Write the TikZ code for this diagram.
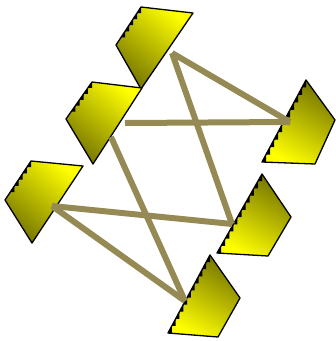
\documentclass[tikz,border=0pt]{standalone}
\usetikzlibrary{calc}
\definecolor{linkcol}{RGB}{150,138,84}
\definecolor{brightY}{RGB}{255,255,0}
\definecolor{darkY}{RGB}{118,118,0}
\tikzset{
  link/.style={draw=linkcol,line width=6pt},
  outline/.style={draw=black,line width=1.3pt,line join=round},
  shadeA/.style={top color=brightY,bottom color=darkY,shading angle=-40},
  shadeB/.style={top color=darkY,bottom color=brightY,shading angle=-30},
}
\newcommand\mystairs[3]{%
  \foreach \k in {1,...,#3}{%
    \path ($(#1)!{(\k-1)/#3}!(#2)$) coordinate (sa)
          ($(#1)!{\k/#3}!(#2)$) coordinate (sb);
    \fill[black] (sa) -- (sa |- sb) -- (sb) -- cycle;
  }}
\begin{document}
\begin{tikzpicture}[x=1pt,y=-1pt]
\useasboundingbox (0,0) rectangle (336,341);
% shape 1
\coordinate (a1) at (141,7); \coordinate (a2) at (193,13);
\coordinate (a3) at (141,89); \coordinate (a4) at (116,45);
\coordinate (a5) at ($(a1)!0.8!(a4)$);
\shade[shadeA] (a1) -- (a2) -- (a3) -- (a4) -- cycle;
\mystairs{a1}{a5}{5}
\draw[outline] (a1) -- (a2) -- (a3) -- (a4) -- cycle;
% shape 2
\coordinate (b1) at (92,82); \coordinate (b2) at (142,88);
\coordinate (b3) at (93,164); \coordinate (b4) at (66,119);
\coordinate (b5) at ($(b1)!0.8!(b4)$);
\shade[shadeA] (b1) -- (b2) -- (b3) -- (b4) -- cycle;
\mystairs{b1}{b5}{5}
\draw[outline] (b1) -- (b2) -- (b3) -- (b4) -- cycle;
% shape 3
\coordinate (c1) at (31,161); \coordinate (c2) at (83,166);
\coordinate (c3) at (32,243); \coordinate (c4) at (5,200);
\coordinate (c5) at ($(c1)!0.8!(c4)$);
\shade[shadeA] (c1) -- (c2) -- (c3) -- (c4) -- cycle;
\mystairs{c1}{c5}{5}
\draw[outline] (c1) -- (c2) -- (c3) -- (c4) -- cycle;
% shape 4
\coordinate (d1) at (306,80); \coordinate (d2) at (335,120);
\coordinate (d3) at (315,164); \coordinate (d4) at (262,162);
\shade[shadeB] (d1) -- (d2) -- (d3) -- (d4) -- cycle;
\mystairs{d1}{d4}{11}
\draw[outline] (d1) -- (d2) -- (d3) -- (d4) -- cycle;
% shape 5
\coordinate (e1) at (262,174); \coordinate (e2) at (291,217);
\coordinate (e3) at (268,256); \coordinate (e4) at (217,253);
\shade[shadeB] (e1) -- (e2) -- (e3) -- (e4) -- cycle;
\mystairs{e1}{e4}{11}
\draw[outline] (e1) -- (e2) -- (e3) -- (e4) -- cycle;
% shape 6
\coordinate (f1) at (210,255); \coordinate (f2) at (240,298);
\coordinate (f3) at (218,337); \coordinate (f4) at (168,333);
\shade[shadeB] (f1) -- (f2) -- (f3) -- (f4) -- cycle;
\mystairs{f1}{f4}{11}
\draw[outline] (f1) -- (f2) -- (f3) -- (f4) -- cycle;
% connector ends
\coordinate (A) at (172,53);
\coordinate (B1) at (125,123);
\coordinate (B2) at (111,137);
\coordinate (C) at (52,206);
\coordinate (D) at (290,122);
\coordinate (E) at (232,224);
\coordinate (F) at (185,301);
\draw[link] (A) -- (D);
\draw[link] (A) -- (E);
\draw[link] (B1) -- (D);
\draw[link] (B2) -- (F);
\draw[link] (C) -- (E);
\draw[link] (C) -- (F);
\end{tikzpicture}
\end{document}
